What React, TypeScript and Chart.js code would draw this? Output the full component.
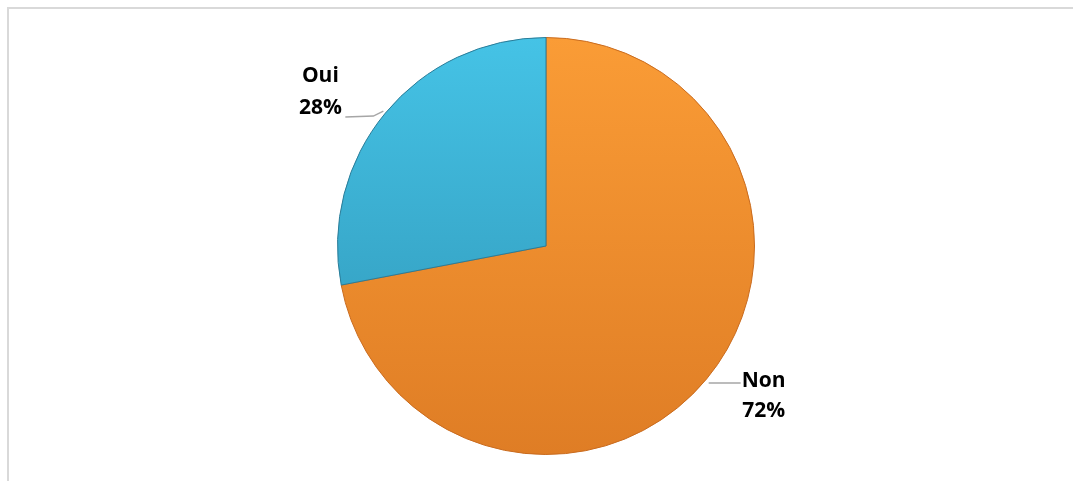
import React, { useEffect, useRef } from "react";
import { Chart, registerables } from "chart.js";

Chart.register(...registerables);

const categories = ["Non", "Oui"];
const values = [72, 28];
const percentLabels = ["72%", "28%"];

const topColors = ["#FA9C36", "#45C3E6"];
const bottomColors = ["#DF7D25", "#2E93B4"];
const edgeColors = ["#C96B1E", "#2A7C98"];

const labelPlugin = {
  id: "pieLabels",
  afterDatasetsDraw(chart: any) {
    const ctx = chart.ctx;
    const meta = chart.getDatasetMeta(0);
    ctx.save();
    meta.data.forEach((arc: any, i: number) => {
      const { x, y, startAngle, endAngle, outerRadius } = arc.getProps(
        ["x", "y", "startAngle", "endAngle", "outerRadius"],
        true
      );
      const mid = (startAngle + endAngle) / 2;
      const ex = x + Math.cos(mid) * outerRadius;
      const ey = y + Math.sin(mid) * outerRadius;
      const right = Math.cos(mid) >= 0;
      ctx.strokeStyle = "#A6A6A6";
      ctx.lineWidth = 1.5;
      ctx.beginPath();
      let tx: number, ty1: number, ty2: number;
      if (right) {
        ctx.moveTo(ex + 2, ey + 4);
        ctx.lineTo(ex + 34, ey + 4);
        tx = ex + 57;
        ty1 = ey + 2;
        ty2 = ey + 32;
      } else {
        ctx.moveTo(ex - 2, ey - 2);
        ctx.lineTo(ex - 12, ey + 3);
        ctx.lineTo(ex - 40, ey + 4);
        tx = ex - 65;
        ty1 = ey - 37;
        ty2 = ey - 5;
      }
      ctx.stroke();
      ctx.fillStyle = "#000000";
      ctx.font = "bold 21px 'Open Sans', 'Liberation Sans', sans-serif";
      ctx.textAlign = "center";
      ctx.textBaseline = "middle";
      ctx.fillText(categories[i], tx, ty1);
      ctx.fillText(percentLabels[i], tx, ty2);
    });
    ctx.restore();
  },
};

export default function App() {
  const ref = useRef<HTMLCanvasElement>(null);
  useEffect(() => {
    if (!ref.current) return;
    const chart = new Chart(ref.current, {
      type: "pie",
      data: {
        labels: categories,
        datasets: [
          {
            data: values,
            backgroundColor: (c: any) => {
              const area = c.chart.chartArea;
              if (!area) return topColors[c.dataIndex];
              const g = c.chart.ctx.createLinearGradient(0, area.top, 0, area.bottom);
              g.addColorStop(0, topColors[c.dataIndex]);
              g.addColorStop(1, bottomColors[c.dataIndex]);
              return g;
            },
            borderColor: edgeColors,
            borderWidth: 1,
          },
        ],
      },
      options: {
        animation: false,
        responsive: false,
        layout: { padding: { top: 37, bottom: 26, left: 300, right: 281 } },
        plugins: {
          legend: { display: false },
          tooltip: { enabled: false },
        },
      },
      plugins: [labelPlugin],
    });
    return () => chart.destroy();
  }, []);
  return (
    <div style={{ position: "absolute", left: 0, top: 0, width: 1073, height: 481, background: "#fff" }}>
      <div
        style={{
          position: "absolute",
          left: 7,
          top: 7,
          width: 1066,
          height: 474,
          borderTop: "2px solid #D9D9D9",
          borderLeft: "2px solid #D9D9D9",
          boxSizing: "border-box",
        }}
      />
      <canvas ref={ref} width={1073} height={481} style={{ position: "absolute", left: 0, top: 0 }} />
    </div>
  );
}
